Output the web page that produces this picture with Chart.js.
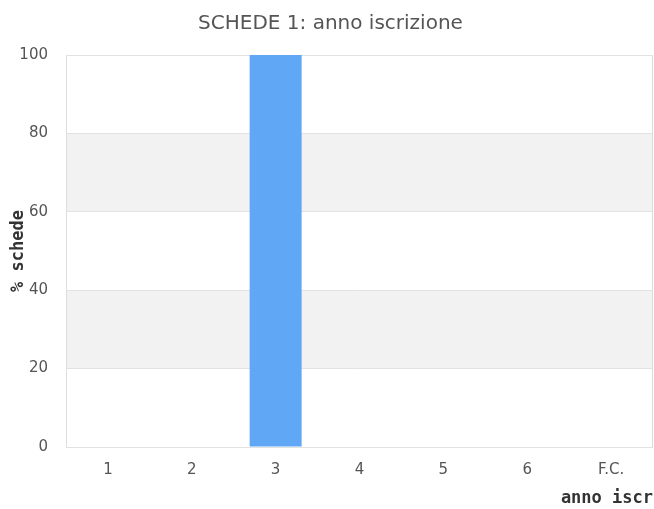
<!DOCTYPE html>
<html>
<head>
<meta charset="utf-8">
<script src="https://cdn.jsdelivr.net/npm/chart.js@4"></script>
<style>
  html, body { margin: 0; padding: 0; background: #fff; }
  #wrap { width: 654px; height: 509px; }
</style>
</head>
<body>
<div id="wrap"><canvas id="chart"></canvas></div>
<script>
// chart data
const categories = ['1', '2', '3', '4', '5', '6', 'F.C.'];
const percentages = [0, 0, 100, 0, 0, 0, 0];
const yTicks = [0, 20, 40, 60, 80, 100];

// alternating background bands behind the plot area
const bandPlugin = {
    id: 'bands',
    beforeDraw(chart) {
        const { ctx, chartArea, scales } = chart;
        const y = scales.y;
        ctx.save();
        for (let i = 0; i < yTicks.length - 1; i++) {
            if (i % 2 === 1) {
                const top = y.getPixelForValue(yTicks[i + 1]);
                const bottom = y.getPixelForValue(yTicks[i]);
                ctx.fillStyle = '#f2f2f2';
                ctx.fillRect(chartArea.left, top, chartArea.right - chartArea.left, bottom - top);
            }
        }
        ctx.strokeStyle = '#dddddd';
        ctx.lineWidth = 1;
        ctx.strokeRect(chartArea.left + 0.5, chartArea.top + 0.5,
            chartArea.right - chartArea.left - 1, chartArea.bottom - chartArea.top);
        ctx.restore();
    }
};

const ctx = document.getElementById('chart').getContext('2d');
new Chart(ctx, {
    type: 'bar',
    data: {
        labels: categories,
        datasets: [{
            label: '% schede',
            data: percentages,
            backgroundColor: '#60a8f5',
            borderWidth: 0,
            categoryPercentage: 0.62,
            barPercentage: 1
        }]
    },
    options: {
        responsive: true,
        maintainAspectRatio: false,
        animation: false,
        layout: { padding: { top: 12, right: 1, bottom: 0, left: 8 } },
        plugins: {
            legend: { display: false },
            tooltip: { enabled: false },
            title: {
                display: true,
                text: 'SCHEDE 1: anno iscrizione',
                color: '#555555',
                font: { family: 'DejaVu Sans', size: 20, weight: 'normal', lineHeight: 1.2 },
                padding: { top: 0, bottom: 19 }
            }
        },
        scales: {
            y: {
                min: 0,
                max: 100,
                afterFit(scale) { scale.width = 58; },
                ticks: {
                    stepSize: 20,
                    color: '#555555',
                    padding: 18,
                    font: { family: 'DejaVu Sans', size: 15 }
                },
                grid: { color: '#e2e2e2', drawTicks: false },
                border: { display: false },
                title: {
                    display: true,
                    text: '% schede',
                    color: '#333333',
                    font: { family: 'DejaVu Sans Mono', size: 17, weight: 'bold' },
                    padding: 0
                }
            },
            x: {
                afterFit(scale) { scale.height = 62; },
                ticks: {
                    color: '#555555',
                    padding: 14,
                    font: { family: 'DejaVu Sans', size: 15 }
                },
                grid: { display: false, drawTicks: false },
                border: { display: false },
                title: {
                    display: true,
                    text: 'anno iscr',
                    align: 'end',
                    color: '#333333',
                    font: { family: 'DejaVu Sans Mono', size: 17, weight: 'bold' },
                    padding: 0
                }
            }
        }
    },
    plugins: [bandPlugin]
});
</script>
</body>
</html>
